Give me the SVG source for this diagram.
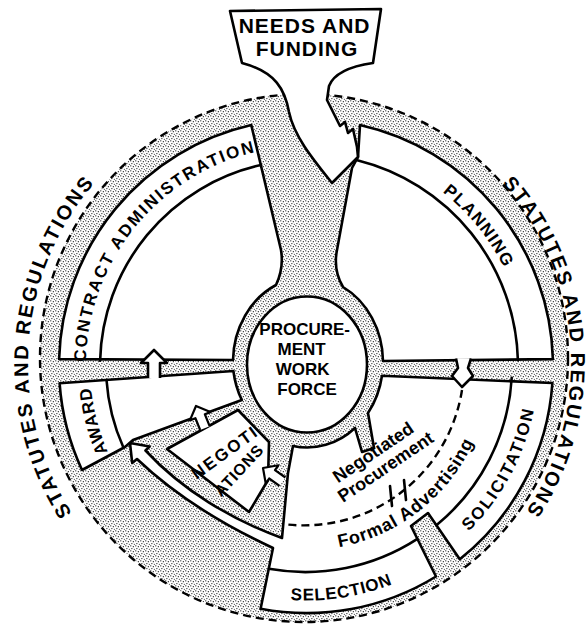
<svg xmlns="http://www.w3.org/2000/svg" width="588" height="633" viewBox="0 0 588 633">
<defs>
  <pattern id="stipple" patternUnits="userSpaceOnUse" width="5" height="5">
    <circle cx="0.8" cy="0.8" r="0.62"/>
    <circle cx="3.3" cy="1.7" r="0.58"/>
    <circle cx="1.9" cy="3.6" r="0.58"/>
    <circle cx="4.3" cy="4.2" r="0.5"/>
  </pattern>
  <!-- generic open-shaft arrow, tip at origin pointing up -->
  <path id="arrowUp" d="M6,28 L6,13 L13,13 L0,0 L-13,13 L-6,13 L-6,28"/>
  <!-- baselines for curved labels -->
  <path id="lawL" d="M92.8,541.1 A277,277 0 0 1 119.7,157.2"/>
  <path id="lawR" d="M482.3,163.8 A268,268 0 0 1 508.3,535.3"/>
  <path id="caP" d="M88.1,396.6 A220,220 0 0 1 290.7,146.5"/>
  <path id="plP" d="M344.4,148.4 A221,221 0 0 1 526.9,373.7"/>
  <path id="soP" d="M385.3,584 A232,232 0 0 0 531.1,309.9"/>
  <path id="seP" d="M188.7,569.1 A234.5,234.5 0 0 0 480.3,522.9"/>
  <path id="awP" d="M198,553.1 A216,216 0 0 1 120.9,254.8"/>
  <path id="faP" d="M274,547.2 A184,184 0 0 0 489.6,378.8"/>
</defs>
<style>
  .wht{fill:#fff;stroke:#000;stroke-width:2.6;stroke-linejoin:round}
  .ln{fill:none;stroke:#000;stroke-width:2.6;stroke-linecap:round}
  .dash{fill:none;stroke:#000;stroke-width:2.4;stroke-dasharray:8 5}
  .lbl{font-family:"Liberation Sans",Arial,sans-serif;font-weight:bold;fill:#000}
</style>

<rect width="588" height="633" fill="#fff"/>

<!-- regulations band: stippled disc bounded by dashed ring -->
<g id="regulations">
  <circle cx="304" cy="358" r="264" fill="url(#stipple)"/>
  <circle cx="304" cy="358" r="264" class="dash"/>
</g>

<!-- wheel sectors -->
<g id="contract-administration">
  <path class="wht" d="M59.1,359.1 A247,247 0 0 1 251.3,125.1 L281,250 Q284,268 276,285 A75,85 0 0 0 233,360 Z"/>
  <path class="ln" d="M100.1,360.6 A206,206 0 0 1 261.1,165"/>
  <text class="lbl" font-size="17" letter-spacing="2"><textPath href="#caP" startOffset="50%" text-anchor="middle">CONTRACT ADMINISTRATION</textPath></text>
</g>

<g id="planning">
  <path class="wht" d="M360,125 A247,247 0 0 1 552.9,359.1 L383,361 A75,85 0 0 0 343,287 Q333,270 337,250 L352,168 L358,157 Z"/>
  <path class="ln" d="M357.3,160.3 A212,212 0 0 1 517.9,360.1"/>
  <text class="lbl" font-size="17" letter-spacing="1.3"><textPath href="#plP" startOffset="50%" text-anchor="middle">PLANNING</textPath></text>
</g>

<!-- solicitation, selection and the formal-advertising return path to award -->
<g id="solicitation-selection">
  <path class="wht" d="M382,375.8 L552.4,383 A247,247 0 0 1 459.8,559.3 L428,513 L411,526 L436,576.5 A247,247 0 0 1 260.6,608.8 L273,548 C230,528 180,500 137,459 L132.2,462.9 L130,443 L149.6,446.5 L145.5,450.5 C182,490 232,520 282,538 L288,473 L293,446 A75,85 0 0 0 355,428 L362,452 L374,448 L368,413 A75,85 0 0 0 382,375.8 Z"/>
  <path class="ln" d="M511.7,377.9 A206,206 0 0 1 436.4,525.2"/>
  <path class="ln" d="M417.4,538.9 A206,206 0 0 1 268.8,568.8"/>
  <path class="dash" d="M462,390 A160,160 0 0 1 283,524"/>
  <path class="ln" d="M390,486 L392,506 M404,480 L406,500"/>
  <text class="lbl" font-size="17" letter-spacing="2"><textPath href="#soP" startOffset="50%" text-anchor="middle">SOLICITATION</textPath></text>
  <text class="lbl" font-size="17" letter-spacing="0.8"><textPath href="#seP" startOffset="50%" text-anchor="middle">SELECTION</textPath></text>
  <text class="lbl" font-size="18" text-anchor="middle" transform="translate(376.6,457.4) rotate(-34)">Negotiated</text>
  <text class="lbl" font-size="18" text-anchor="middle" transform="translate(389,472) rotate(-34)">Procurement</text>
  <text class="lbl" font-size="18" letter-spacing="0.8"><textPath href="#faP" startOffset="50%" text-anchor="middle">Formal Advertising</textPath></text>
</g>

<g id="award">
  <path class="wht" d="M59.6,383.2 L233.4,371 A75,85 0 0 0 241.8,400 L133,440 L125,447 L82,470 A247,247 0 0 1 59.6,383.2 Z"/>
  <path class="ln" d="M106.5,380 A200,200 0 0 0 123.3,447.3"/>
  <text class="lbl" font-size="17" letter-spacing="0.8"><textPath href="#awP" startOffset="50%" text-anchor="middle">AWARD</textPath></text>
</g>

<g id="negotiations">
  <path class="wht" d="M167,449 L238,410 L269,442 L268,480 L249,512 Z"/>
  <text class="lbl" font-size="17" letter-spacing="2.2" text-anchor="middle" transform="translate(228.5,457) rotate(-36)">NEGOTI</text>
  <text class="lbl" font-size="16" letter-spacing="0.8" text-anchor="middle" transform="translate(243,474) rotate(-47)">ATIONS</text>
</g>

<!-- centre -->
<g id="procurement-work-force">
  <ellipse cx="307" cy="364.5" rx="60" ry="68" class="wht"/>
  <text class="lbl" font-size="17" text-anchor="middle">
    <tspan x="307" y="335">PROCURE-</tspan>
    <tspan x="304" y="355">MENT</tspan>
    <tspan x="305" y="375">WORK</tspan>
    <tspan x="307" y="395">FORCE</tspan>
  </text>
</g>

<!-- input funnel -->
<g id="needs-and-funding">
  <path class="wht" d="M230,11 L381,9 L373,63 C352,66 334,73 329,86 L327,100 L340,126 L345,122 L348,133 L353,129 L357,147 L358,157 L332,183 C312,158 294,136 289,112 C285,90 276,72 242,63 Z"/>
  <text class="lbl" font-size="21" letter-spacing="1" text-anchor="middle">
    <tspan x="308" y="33">NEEDS AND</tspan>
    <tspan x="307" y="56">FUNDING</tspan>
  </text>
</g>

<!-- flow connectors -->
<g id="connectors">
  <use href="#arrowUp" class="wht" transform="translate(154,350)"/>
  <use href="#arrowUp" class="wht" transform="translate(196,406) rotate(-22) scale(0.85)"/>
  <use href="#arrowUp" class="wht" transform="translate(263,468) rotate(-55) scale(0.85)"/>
  <path class="wht" d="M456,358.5 L458,368 L452,376 L462,387 L473,376 L468,368 L471,358.5"/>
</g>

<!-- outer legend -->
<g id="statutes">
  <text class="lbl" font-size="20" letter-spacing="2.3"><textPath href="#lawL" startOffset="50%" text-anchor="middle">STATUTES AND REGULATIONS</textPath></text>
  <text class="lbl" font-size="20" letter-spacing="2.3"><textPath href="#lawR" startOffset="50%" text-anchor="middle">STATUTES AND REGULATIONS</textPath></text>
</g>
</svg>
